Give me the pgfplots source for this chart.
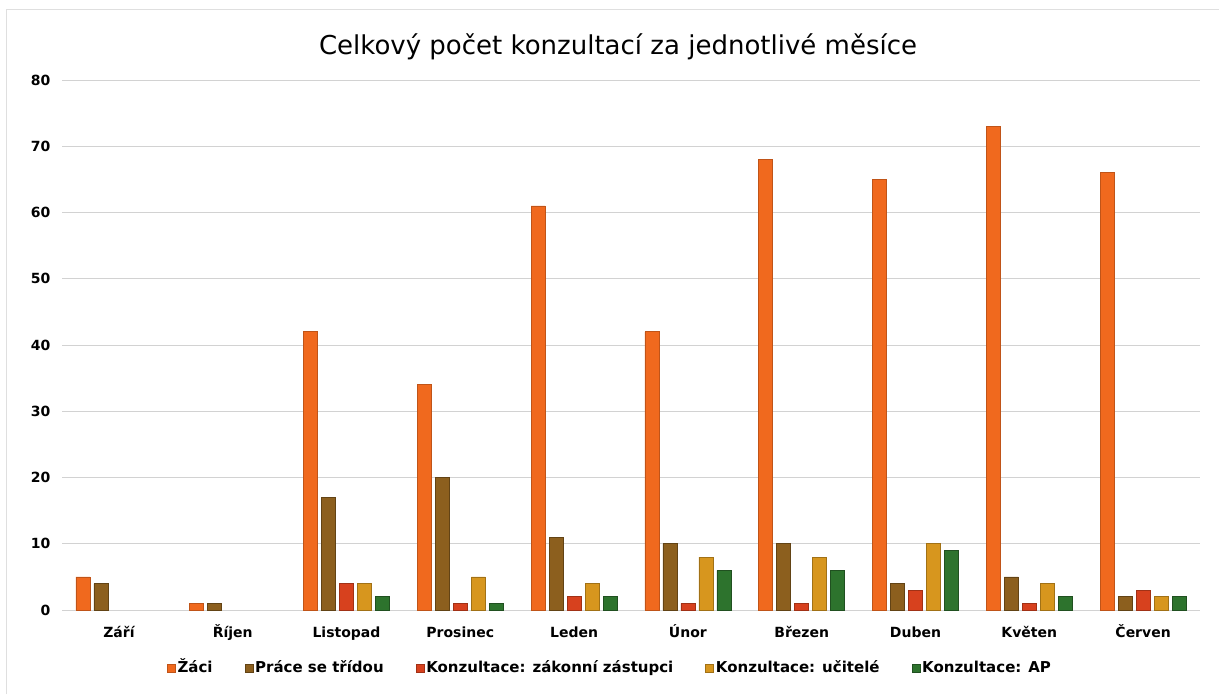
\documentclass[border=0pt]{standalone}
\usepackage{fontspec}
\setmainfont{DejaVu Sans}
\usepackage{pgfplots}
\pgfplotsset{compat=1.18}
\definecolor{czaci}{HTML}{F0691E}
\definecolor{cprace}{HTML}{8C5F1E}
\definecolor{czak}{HTML}{D7411E}
\definecolor{cucit}{HTML}{D7961E}
\definecolor{cap}{HTML}{2D732D}
\begin{document}
\begin{tikzpicture}[x=1pt,y=1pt]
\path[use as bounding box] (0,0) rectangle (1219,694);
\draw[gray!25, line width=1pt] (6,0) -- (6,684) -- (1219,684);
\begin{axis}[
  at={(62pt,84pt)}, anchor=south west,
  scale only axis, width=1138pt, height=530pt,
  ymin=0, ymax=80, ytick={0,10,...,80},
  xmin=-0.5, xmax=9.5, xtick={0,...,9},
  xticklabels={Září,Říjen,Listopad,Prosinec,Leden,Únor,Březen,Duben,Květen,Červen},
  ybar=4pt, bar width=14pt,
  axis line style={draw=none},
  ymajorgrids, grid style={color=gray!35, line width=1pt},
  major tick length=0pt,
  /pgf/number format/assume math mode=true,
  yticklabel style={font=\fontsize{14}{16}\selectfont\bfseries, xshift=-8pt},
  xticklabel style={font=\fontsize{14}{16}\selectfont\bfseries, text height=14pt, text depth=3pt, yshift=-10pt},
  legend columns=5,
  legend style={at={(0.4815,-0.1094)}, anchor=center, draw=none, fill=none,
    font=\fontsize{15}{17}\selectfont\bfseries,
    nodes={text height=14pt, text depth=4pt},
    /tikz/every even column/.append style={column sep=30pt}},
  legend image code/.code={\fill[#1] (0pt,-4pt) rectangle (8pt,4pt);},
  title={Celkový počet konzultací za jednotlivé měsíce},
  title style={at={(0.4886,1.052)}, anchor=center, font=\fontsize{26}{30}\selectfont},
  clip=false
]
\addplot[fill=czaci, draw=czaci!80!black, line width=0.6pt] coordinates {(0,5) (1,1) (2,42) (3,34) (4,61) (5,42) (6,68) (7,65) (8,73) (9,66)};
\addlegendentry{Žáci}
\addplot[fill=cprace, draw=cprace!70!black, line width=0.6pt] coordinates {(0,4) (1,1) (2,17) (3,20) (4,11) (5,10) (6,10) (7,4) (8,5) (9,2)};
\addlegendentry{Práce se třídou}
\addplot[fill=czak, draw=czak!75!black, line width=0.6pt] coordinates {(2,4) (3,1) (4,2) (5,1) (6,1) (7,3) (8,1) (9,3)};
\addlegendentry{Konzultace: zákonní zástupci}
\addplot[fill=cucit, draw=cucit!75!black, line width=0.6pt] coordinates {(2,4) (3,5) (4,4) (5,8) (6,8) (7,10) (8,4) (9,2)};
\addlegendentry{Konzultace: učitelé}
\addplot[fill=cap, draw=cap!70!black, line width=0.6pt] coordinates {(2,2) (3,1) (4,2) (5,6) (6,6) (7,9) (8,2) (9,2)};
\addlegendentry{Konzultace: AP}
\end{axis}
\end{tikzpicture}
\end{document}
